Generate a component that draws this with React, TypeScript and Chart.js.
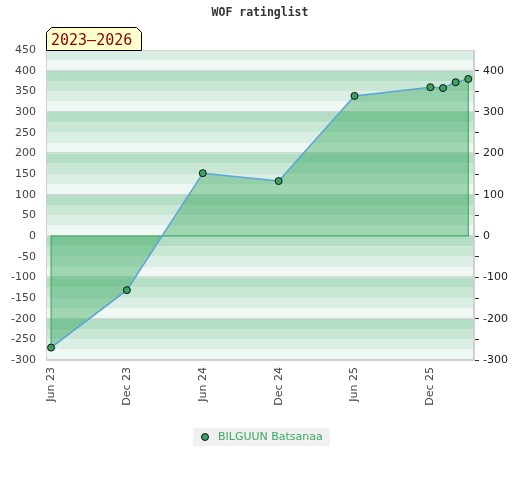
import React, { useEffect, useRef } from "react";
import { Chart, registerables } from "chart.js";

Chart.register(...registerables);

// ---- data ----
const pointDates = ["2023-06", "2023-12", "2024-06", "2024-12", "2025-06", "2025-12", "2026-01", "2026-02", "2026-03"];
const ratings = [-270, -131, 152, 133, 339, 360, 358, 372, 380];
const tickDates = ["2023-06", "2023-12", "2024-06", "2024-12", "2025-06", "2025-12"];
const playerName = "BILGUUN Batsanaa";
const chartTitle = "WOF ratinglist";
const periodLabel = "2023–2026";
const yMin = -300;
const yMax = 450;

const MONTHS = ["Jan", "Feb", "Mar", "Apr", "May", "Jun", "Jul", "Aug", "Sep", "Oct", "Nov", "Dec"];
const BASE_YEAR = 2023;
const BASE_MONTH = 6;

function monthIndex(d: string): number {
  const [y, m] = d.split("-").map(Number);
  return (y - BASE_YEAR) * 12 + (m - BASE_MONTH);
}
function monthLabel(v: number): string {
  const total = BASE_YEAR * 12 + (BASE_MONTH - 1) + Math.round(v);
  const y = Math.floor(total / 12);
  const m = total % 12;
  return MONTHS[m] + " " + String(y).slice(2);
}

const FONT = "'DejaVu Sans', Verdana, sans-serif";
const MONO = "'DejaVu Sans Mono', monospace";
const BAND_COLORS: Record<number, string> = {
  0: "#b3dec5",
  75: "#c8e7d5",
  50: "#dbeee3",
  25: "#eff8f2",
};

const stripesPlugin = {
  id: "stripes",
  beforeDraw(chart: any) {
    const { ctx, chartArea } = chart;
    const ys = chart.scales.y;
    ctx.save();
    for (let top = yMax; top > yMin; top -= 25) {
      const key = ((top % 100) + 100) % 100;
      const y1 = ys.getPixelForValue(top);
      const y2 = ys.getPixelForValue(top - 25);
      ctx.fillStyle = BAND_COLORS[key];
      ctx.fillRect(chartArea.left, y1, chartArea.right - chartArea.left, y2 - y1);
    }
    ctx.strokeStyle = "#d6d6d6";
    ctx.lineWidth = 1;
    for (let v = yMax; v > yMin; v -= 25) {
      if (((v % 100) + 100) % 100 !== 0) continue;
      const y = Math.round(ys.getPixelForValue(v)) + 0.5;
      ctx.beginPath();
      ctx.moveTo(chartArea.left, y - 1);
      ctx.lineTo(chartArea.right, y - 1);
      ctx.stroke();
    }
    ctx.strokeStyle = "#d0d0d0";
    ctx.strokeRect(chartArea.left + 0.5, chartArea.top + 0.5, chartArea.right - chartArea.left - 1, chartArea.bottom - chartArea.top - 1);
    ctx.restore();
  },
};

const outlinePlugin = {
  id: "outline",
  beforeDatasetsDraw(chart: any) {
    const { ctx } = chart;
    const xs = chart.scales.x;
    const ys = chart.scales.y;
    const n = pointDates.length;
    const x0 = xs.getPixelForValue(monthIndex(pointDates[0]));
    const x1 = xs.getPixelForValue(monthIndex(pointDates[n - 1]));
    const yz = ys.getPixelForValue(0);
    ctx.save();
    ctx.strokeStyle = "#2ea455";
    ctx.lineWidth = 1;
    ctx.beginPath();
    ctx.moveTo(x0, ys.getPixelForValue(ratings[0]));
    ctx.lineTo(x0, yz);
    ctx.lineTo(x1, yz);
    ctx.lineTo(x1, ys.getPixelForValue(ratings[n - 1]));
    ctx.stroke();
    ctx.restore();
  },
};

const decorPlugin = {
  id: "decor",
  afterDraw(chart: any) {
    const { ctx, chartArea, width } = chart;
    ctx.save();
    // title
    ctx.font = "bold 11.5px " + MONO;
    ctx.fillStyle = "#333";
    ctx.textAlign = "center";
    ctx.textBaseline = "middle";
    ctx.fillText(chartTitle, width / 2, 13.5);

    // period label box
    const bx = chartArea.left;
    const by = 27;
    const bw = 95;
    const bh = chartArea.top - by;
    const c = 5;
    ctx.beginPath();
    ctx.moveTo(bx + 0.5, chartArea.top + 0.5);
    ctx.lineTo(bx + 0.5, by + c + 0.5);
    ctx.lineTo(bx + c + 0.5, by + 0.5);
    ctx.lineTo(bx + bw - c + 0.5, by + 0.5);
    ctx.lineTo(bx + bw + 0.5, by + c + 0.5);
    ctx.lineTo(bx + bw + 0.5, chartArea.top + 0.5);
    ctx.closePath();
    ctx.fillStyle = "#ffffcc";
    ctx.fill();
    ctx.strokeStyle = "#000";
    ctx.lineWidth = 1;
    ctx.stroke();
    ctx.font = "15px " + MONO;
    ctx.fillStyle = "#8b0000";
    ctx.textAlign = "left";
    ctx.textBaseline = "alphabetic";
    ctx.fillText(periodLabel, bx + 5, by + bh - 5);

    // legend
    ctx.font = "11px " + FONT;
    const tw = ctx.measureText(playerName).width;
    const boxW = tw + 32;
    const boxX = Math.round(width / 2 + 1 - boxW / 2);
    const boxY = 428;
    ctx.fillStyle = "#f0f0f0";
    ctx.fillRect(boxX, boxY, boxW, 18);
    ctx.beginPath();
    ctx.arc(boxX + 12, boxY + 9, 3.5, 0, Math.PI * 2);
    ctx.fillStyle = "#3aa35f";
    ctx.fill();
    ctx.strokeStyle = "#111";
    ctx.stroke();
    ctx.fillStyle = "#3aaa62";
    ctx.textBaseline = "middle";
    ctx.fillText(playerName, boxX + 25, boxY + 9.5);
    ctx.restore();
  },
};

export default function App() {
  const ref = useRef<HTMLCanvasElement | null>(null);

  useEffect(() => {
    if (!ref.current) return;
    const data = pointDates.map((d, i) => ({ x: monthIndex(d), y: ratings[i] }));
    const first = monthIndex(pointDates[0]);
    const last = monthIndex(pointDates[pointDates.length - 1]);
    const chart = new Chart(ref.current, {
      type: "line",
      data: {
        datasets: [
          {
            label: playerName,
            data,
            borderColor: "#5ba3dc",
            borderWidth: 1.5,
            backgroundColor: "rgba(40,160,80,0.4)",
            fill: "origin",
            tension: 0,
            pointRadius: 3.5,
            pointBackgroundColor: "#3aa35f",
            pointBorderColor: "#111",
            pointBorderWidth: 1,
            yAxisID: "y",
          },
        ],
      },
      options: {
        responsive: false,
        animation: false,
        layout: { padding: { top: 50, left: 0, right: 0, bottom: 0 } },
        plugins: {
          legend: { display: false },
          title: { display: false },
          tooltip: { enabled: false },
          filler: { drawTime: "beforeDatasetsDraw" },
        } as any,
        scales: {
          x: {
            type: "linear",
            min: first - 0.4,
            max: last + 0.45,
            afterBuildTicks: (scale: any) => {
              scale.ticks = tickDates.map((d) => ({ value: monthIndex(d) }));
            },
            afterFit: (scale: any) => {
              scale.height = 120;
            },
            grid: { display: false, drawTicks: false },
            border: { display: true, color: "#d0d0d0" },
            ticks: {
              autoSkip: false,
              maxRotation: 90,
              minRotation: 90,
              padding: 7,
              color: "#444",
              font: { family: FONT, size: 11 },
              callback: (v: any) => monthLabel(Number(v)),
            },
          },
          y: {
            type: "linear",
            position: "left",
            min: yMin,
            max: yMax,
            afterFit: (scale: any) => {
              scale.width = 46;
            },
            grid: { display: false, drawTicks: false },
            border: { display: true, color: "#d0d0d0" },
            ticks: {
              stepSize: 50,
              padding: 10,
              color: "#444",
              font: { family: FONT, size: 11 },
            },
          },
          y2: {
            type: "linear",
            position: "right",
            min: yMin,
            max: yMax,
            afterFit: (scale: any) => {
              scale.width = 46;
            },
            grid: {
              display: true,
              drawOnChartArea: false,
              drawTicks: true,
              tickLength: 5,
              tickColor: (c: any) => (c.tick && c.tick.value === yMax ? "rgba(0,0,0,0)" : "#333"),
            },
            border: { display: true, color: "#d0d0d0" },
            ticks: {
              stepSize: 50,
              padding: 4,
              color: "#222",
              font: { family: FONT, size: 11 },
              callback: (v: any) => (Number(v) % 100 === 0 ? String(v) : ""),
            },
          },
        },
      },
      plugins: [stripesPlugin, outlinePlugin, decorPlugin],
    });
    return () => chart.destroy();
  }, []);

  return (
    <div style={{ position: "absolute", left: 0, top: 0, width: 520, height: 480 }}>
      <canvas ref={ref} width={520} height={480} />
    </div>
  );
}
